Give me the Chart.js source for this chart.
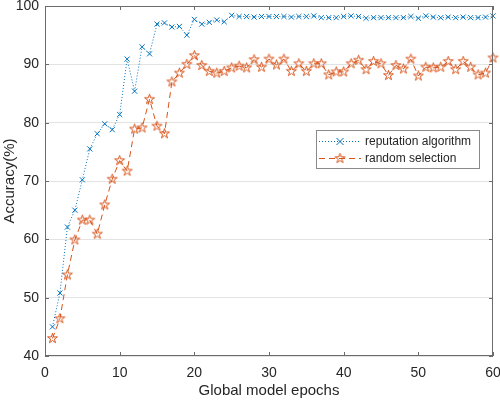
<!DOCTYPE html>
<html>
<head>
<meta charset="utf-8">
<script src="https://cdn.jsdelivr.net/npm/chart.js@4.4.1/dist/chart.umd.min.js"></script>
<style>
  html, body { margin: 0; padding: 0; background: #fff; }
  #wrap { width: 500px; height: 400px; }
</style>
</head>
<body>
<div id="wrap"><canvas id="chart" width="500" height="400"></canvas></div>
<script>
// data
const epochs = [1, 2, 3, 4, 5, 6, 7, 8, 9, 10, 11, 12, 13, 14, 15, 16, 17, 18, 19, 20,
  21, 22, 23, 24, 25, 26, 27, 28, 29, 30, 31, 32, 33, 34, 35, 36, 37, 38, 39, 40,
  41, 42, 43, 44, 45, 46, 47, 48, 49, 50, 51, 52, 53, 54, 55, 56, 57, 58, 59, 60];
const reputationAcc = [45.0, 50.8, 62.1, 65.0, 70.2, 75.5, 78.1, 79.8, 78.8, 81.4,
  90.9, 85.4, 93.0, 91.8, 96.9, 97.1, 96.4, 96.5, 95.0, 97.7,
  96.9, 97.2, 97.6, 97.3, 98.4, 98.2, 98.2, 98.1, 98.2, 98.2,
  98.2, 98.2, 98.1, 98.2, 98.2, 98.3, 98.0, 98.0, 98.0, 98.2,
  98.3, 98.2, 97.9, 98.0, 98.0, 98.0, 98.0, 98.0, 98.2, 97.9,
  98.3, 98.1, 98.0, 98.1, 98.0, 98.1, 98.0, 98.0, 98.1, 98.3];
const randomAcc = [43.0, 46.4, 53.9, 59.9, 63.3, 63.3, 60.9, 65.9, 70.3, 73.5,
  71.7, 78.9, 79.1, 84.0, 79.4, 78.1, 87.0, 88.5, 90.0, 91.5,
  89.8, 88.8, 88.5, 88.8, 89.4, 89.7, 89.4, 90.8, 89.5, 90.9,
  89.9, 90.9, 88.8, 90.1, 88.8, 90.1, 90.1, 88.2, 88.7, 88.7,
  90.1, 90.7, 89.1, 90.5, 90.1, 88.1, 89.8, 89.2, 90.9, 88.0,
  89.5, 89.4, 89.5, 90.5, 89.1, 90.5, 89.5, 88.2, 88.5, 91.1];
const seriesNames = ['reputation algorithm', 'random selection'];
const xTicks = [0, 10, 20, 30, 40, 50, 60];
const yTicks = [40, 50, 60, 70, 80, 90, 100];

const BLUE = '#0072BD';
const RED = '#D95319';
const TEXT = '#262626';
const AXIS = '#6b6b6b';
const FONT = '"Liberation Sans", Arial, Helvetica, sans-serif';

// MATLAB-like pentagram marker
function makeStar(color) {
  const c = document.createElement('canvas');
  c.width = 13; c.height = 13;
  const g = c.getContext('2d');
  const R = 5.2, r = R * 0.382;
  g.beginPath();
  for (let i = 0; i < 10; i++) {
    const rad = i % 2 === 0 ? R : r;
    const a = -Math.PI / 2 + i * Math.PI / 5;
    const px = 6.5 + rad * Math.cos(a), py = 6.5 + rad * Math.sin(a);
    if (i === 0) g.moveTo(px, py); else g.lineTo(px, py);
  }
  g.closePath();
  g.strokeStyle = color;
  g.lineWidth = 1;
  g.stroke();
  return c;
}
const starImg = makeStar(RED);

const toPoints = (ys) => epochs.map((e, i) => ({ x: e, y: ys[i] }));

// box, inward ticks and legend drawn on top like MATLAB
const matlabAxes = {
  id: 'matlabAxes',
  afterDatasetsDraw(chart) {
    const { ctx, chartArea: a, scales } = chart;
    ctx.save();
    ctx.strokeStyle = AXIS;
    ctx.lineWidth = 1;
    ctx.strokeRect(a.left + 0.5, a.top + 0.5, a.right - a.left - 1, a.bottom - a.top - 1);
    ctx.beginPath();
    const tl = 4;
    xTicks.forEach(v => {
      const x = Math.round(scales.x.getPixelForValue(v)) + 0.5;
      ctx.moveTo(x, a.bottom); ctx.lineTo(x, a.bottom - tl);
      ctx.moveTo(x, a.top); ctx.lineTo(x, a.top + tl);
    });
    yTicks.forEach(v => {
      const y = Math.round(scales.y.getPixelForValue(v)) + 0.5;
      ctx.moveTo(a.left, y); ctx.lineTo(a.left + tl, y);
      ctx.moveTo(a.right, y); ctx.lineTo(a.right - tl, y);
    });
    ctx.stroke();

    // legend
    const w = 163, h = 38;
    const lx = a.right - 14 - w, ly = 130;
    ctx.fillStyle = '#fff';
    ctx.fillRect(lx + 0.5, ly + 0.5, w, h);
    ctx.strokeStyle = '#8a8a8a';
    ctx.strokeRect(lx + 0.5, ly + 0.5, w, h);
    const rows = [
      { color: BLUE, dash: [1, 2], marker: 'x', y: ly + 11.5 },
      { color: RED, dash: [6, 4], marker: 'star', y: ly + 28.5 }
    ];
    ctx.font = '12px ' + FONT;
    ctx.textBaseline = 'middle';
    ctx.textAlign = 'left';
    rows.forEach((row, i) => {
      ctx.strokeStyle = row.color;
      ctx.setLineDash(row.dash);
      ctx.beginPath();
      ctx.moveTo(lx + 3, row.y); ctx.lineTo(lx + 45, row.y);
      ctx.stroke();
      ctx.setLineDash([]);
      const mx = lx + 24;
      if (row.marker === 'x') {
        ctx.beginPath();
        ctx.moveTo(mx - 3.5, row.y - 3.5); ctx.lineTo(mx + 3.5, row.y + 3.5);
        ctx.moveTo(mx + 3.5, row.y - 3.5); ctx.lineTo(mx - 3.5, row.y + 3.5);
        ctx.stroke();
      } else {
        ctx.fillStyle = '#fff';
        ctx.drawImage(starImg, mx - 6.5, row.y - 6.5);
      }
      ctx.fillStyle = TEXT;
      ctx.fillText(seriesNames[i], lx + 49, row.y + 0.5);
    });
    ctx.restore();
  }
};

new Chart(document.getElementById('chart'), {
  type: 'line',
  data: {
    datasets: [
      {
        label: seriesNames[0],
        data: toPoints(reputationAcc),
        borderColor: BLUE,
        borderWidth: 1,
        borderDash: [1, 2],
        pointStyle: 'crossRot',
        pointRadius: 3.6,
        pointBorderColor: BLUE,
        pointBorderWidth: 1,
        tension: 0,
        clip: false
      },
      {
        label: seriesNames[1],
        data: toPoints(randomAcc),
        borderColor: RED,
        borderWidth: 1,
        borderDash: [6, 4],
        pointStyle: starImg,
        pointRadius: 5,
        tension: 0,
        clip: false
      }
    ]
  },
  options: {
    responsive: false,
    animation: false,
    layout: { padding: { top: 5, right: 7, left: 0, bottom: 0 } },
    plugins: { legend: { display: false }, tooltip: { enabled: false } },
    scales: {
      x: {
        type: 'linear',
        min: 0, max: 60,
        afterBuildTicks: s => { s.ticks = xTicks.map(v => ({ value: v })); },
        afterFit: s => { s.height = 44; s.paddingLeft = 0; s.paddingRight = 0; },
        grid: { display: false, drawTicks: false },
        border: { display: false },
        ticks: { color: TEXT, padding: 9, font: { family: FONT, size: 14 } },
        title: { display: true, text: 'Global model epochs', color: TEXT,
          padding: { top: 0, bottom: 0 }, font: { family: FONT, size: 15 } }
      },
      y: {
        min: 40, max: 100,
        afterBuildTicks: s => { s.ticks = yTicks.map(v => ({ value: v })); },
        afterFit: s => { s.width = 45; s.paddingTop = 0; s.paddingBottom = 0; },
        grid: { color: '#e3e3e3', lineWidth: 1, drawTicks: false },
        border: { display: false },
        ticks: { color: TEXT, padding: 6, font: { family: FONT, size: 14 } },
        title: { display: true, text: 'Accuracy(%)', color: TEXT,
          padding: { top: 1, bottom: 0 }, font: { family: FONT, size: 15 } }
      }
    }
  },
  plugins: [matlabAxes]
});
</script>
</body>
</html>
